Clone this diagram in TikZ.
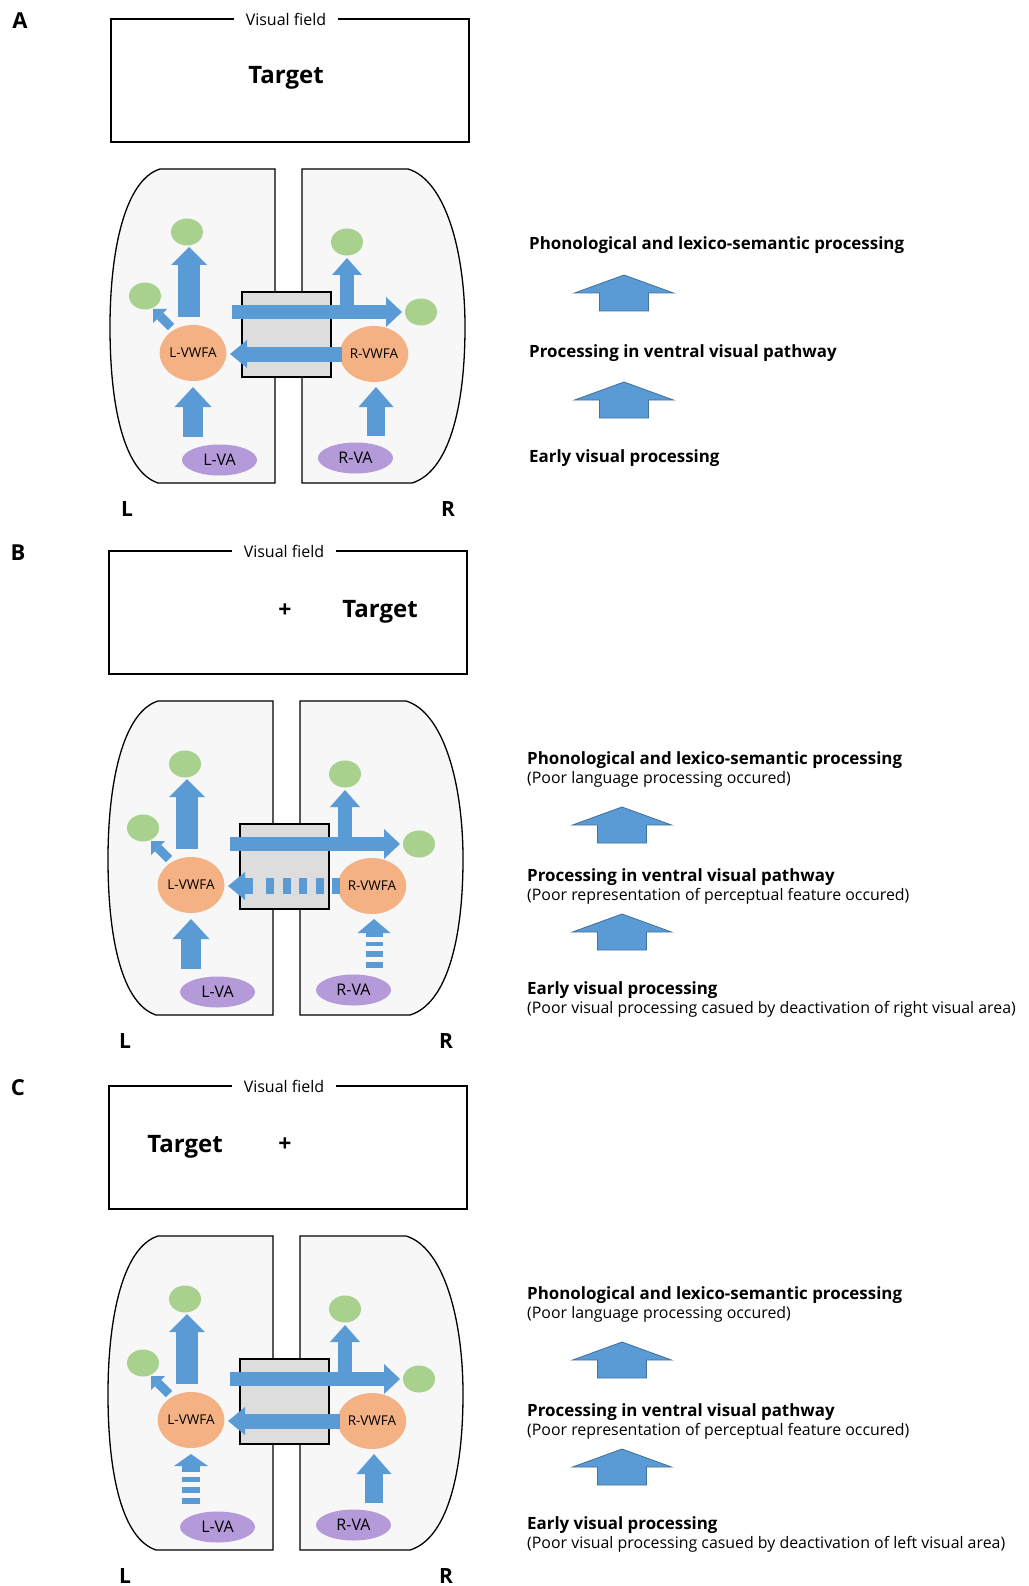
\documentclass[tikz,border=0pt]{standalone}
\usepackage{fontspec}
\setmainfont{Open Sans}
\usetikzlibrary{arrows.meta,calc,shapes.geometric}
\definecolor{arrblue}{HTML}{5B9BD5}
\definecolor{arredge}{HTML}{41719C}
\definecolor{vwfacol}{HTML}{F4B183}
\definecolor{greencol}{HTML}{A9D18E}
\definecolor{vacol}{HTML}{B49AD8}
\definecolor{hemicol}{HTML}{F7F7F7}
\definecolor{cccol}{HTML}{DDDDDD}
\tikzset{
 hemisphere/.style={draw=black, line width=1.3pt, fill=hemicol},
 ccbox/.style={draw=black, line width=1.2pt, fill=cccol},
 fieldbox/.style={draw=black, line width=1.4pt},
 fieldlabel/.style={fill=white, inner xsep=12pt, inner ysep=1pt, font=\fontsize{16}{16}\selectfont},
 targetstyle/.style={anchor=base, inner sep=0pt, font=\bfseries\fontsize{24}{24}\selectfont},
 plusstyle/.style={inner sep=0pt, font=\bfseries\fontsize{23}{23}\selectfont},
 letterstyle/.style={inner sep=0pt, font=\bfseries\fontsize{22}{22}\selectfont},
 sidelabel/.style={inner sep=0pt, font=\bfseries\fontsize{21}{21}\selectfont},
 vwfanode/.style={ellipse, fill=vwfacol, minimum width=61pt, minimum height=56pt, inner sep=0pt, font=\fontsize{13.5}{13.5}\selectfont},
 vanode/.style={ellipse, fill=vacol, minimum width=75pt, minimum height=31pt, inner sep=0pt, font=\fontsize{16}{16}\selectfont},
 greennode/.style={ellipse, fill=greencol, minimum width=32pt, minimum height=27pt, inner sep=0pt},
 barrow/.style n args={3}{line width=#1pt, draw=arrblue, -{Triangle[width=#2pt,length=#3pt,line width=0pt]}},
 dashshaft/.style n args={3}{line width=#1pt, draw=arrblue, dash pattern=on #2pt off #3pt},
 headtext/.style={anchor=west, inner sep=0pt, font=\bfseries\fontsize{16.9}{16.9}\selectfont},
 subtext/.style={anchor=west, inner sep=0pt, font=\fontsize{15.9}{15.9}\selectfont},
 legarrow/.style={fill=arrblue, draw=arredge, line width=0.8pt},
}
\newcommand\legendarrow[2]{%
 \draw[legarrow] (#1-24.5,#2+36) -- (#1-24.5,#2+18) -- (#1-49.5,#2+18) -- (#1,#2) -- (#1+49.5,#2+18) -- (#1+24.5,#2+18) -- (#1+24.5,#2+36) -- cycle;}
\newcommand\drawpanel[4]{%
 \node[letterstyle] (#1let) at (20,21) {#3};
 \draw[fieldbox] (111,19) rectangle (469,142);
 \node[fieldlabel] (#1vf) at (286,19) {Visual field};
 \ifcase#2
   \node[targetstyle] (#1tgt) at (286,84) {Target};
 \or
   \node[plusstyle] (#1plus) at (287,79) {+};
   \node[targetstyle] (#1tgt) at (382,85) {Target};
 \or
   \node[targetstyle] (#1tgt) at (187,85) {Target};
   \node[plusstyle] (#1plus) at (287,78) {+};
 \fi
 % hemispheres
 \draw[hemisphere] (275,169) -- (160,169) .. controls (125,180) and (110,250) .. (110,327) .. controls (110,410) and (125,472) .. (158,483) -- (275,483) -- cycle;
 \draw[hemisphere] (302,169) -- (408,169) .. controls (445,180) and (465,250) .. (465,327) .. controls (465,410) and (448,472) .. (412,483) -- (302,483) -- cycle;
 \draw[ccbox] (242,292) rectangle (331,377);
 % nodes
 \node[vwfanode] (#1lvwfa) at (193,353) {L-VWFA};
 \node[vwfanode] (#1rvwfa) at (374,354) {R-VWFA};
 \node[vanode] (#1lva) at (219.5,460) {L-VA};
 \node[vanode] (#1rva) at (355.5,458) {R-VA};
 \node[greennode] (#1g1) at (187,232) {};
 \node[greennode] (#1g2) at (145,296) {};
 \node[greennode] (#1g3) at (347,242) {};
 \node[greennode] (#1g4) at (421,312) {};
 \node[sidelabel] (#1L) at (127,509) {L};
 \node[sidelabel] (#1R) at (448,509) {R};
 % arrow end points
 \coordinate (#1a1s) at (189,317); \coordinate (#1a1e) at (189,247);
 \coordinate (#1a2s) at (171,327); \coordinate (#1a2e) at (153,309);
 \coordinate (#1a3s) at (232,312); \coordinate (#1a3e) at (402,312);
 \coordinate (#1a4s) at (347,312); \coordinate (#1a4e) at (347,258);
 \coordinate (#1a5s) at (342,354); \coordinate (#1a5e) at (230,354);
 \coordinate (#1a6s) at (193,437); \coordinate (#1a6e) at (193,387);
 \coordinate (#1a7s) at (376,436); \coordinate (#1a7e) at (376,387);
 \draw[barrow={22}{36}{18}] (#1a1s) -- (#1a1e);
 \draw[barrow={9}{20}{10}] (#1a2s) -- (#1a2e);
 \draw[barrow={14}{30}{16}] (#1a3s) -- (#1a3e);
 \draw[barrow={14}{30}{17}] (#1a4s) -- (#1a4e);
 \ifnum#2=1
   \coordinate (#1a5m) at (255,354); \coordinate (#1a5d) at (265,354);
   \draw[dashshaft={16}{8}{8.5}] (#1a5s) -- (#1a5d);
   \draw[barrow={16}{28}{17}] (#1a5m) -- (#1a5e);
 \else
   \draw[barrow={15}{28}{17}] (#1a5s) -- (#1a5e);
 \fi
 \ifnum#2=2
   \coordinate (#1a6m) at (193,405); \coordinate (#1a6d) at (193,410);
   \draw[dashshaft={18}{6}{5}] (#1a6s) -- (#1a6d);
   \draw[barrow={18}{34}{12}] (#1a6m) -- (#1a6e);
 \else
   \draw[barrow={20}{37}{20}] (#1a6s) -- (#1a6e);
 \fi
 \ifnum#2=1
   \coordinate (#1a7m) at (376,405); \coordinate (#1a7d) at (376,410);
   \draw[dashshaft={17}{6}{5}] (#1a7s) -- (#1a7d);
   \draw[barrow={17}{33}{14}] (#1a7m) -- (#1a7e);
 \else
   \draw[barrow={18}{35}{20}] (#1a7s) -- (#1a7e);
 \fi
 % legend
 \ifnum#2=0
   \node[headtext] (#1h1) at (529,245) {Phonological and lexico-semantic processing};
   \node[headtext] (#1h2) at (529,353) {Processing in ventral visual pathway};
   \node[headtext] (#1h3) at (529,458) {Early visual processing};
 \else
   \node[headtext] (#1h1) at (529,228) {Phonological and lexico-semantic processing};
   \node[subtext] (#1s1) at (529,247) {(Poor language processing occured)};
   \node[headtext] (#1h2) at (529,345) {Processing in ventral visual pathway};
   \node[subtext] (#1s2) at (529,364) {(Poor representation of perceptual feature occured)};
   \node[headtext] (#1h3) at (529,458) {Early visual processing};
   \node[subtext] (#1s3) at (529,477) {(Poor visual processing casued by deactivation of #4 visual area)};
 \fi
 \legendarrow{624}{275}
 \legendarrow{624}{382}
}
\begin{document}
\begin{tikzpicture}[x=1pt,y=-1pt]
\useasboundingbox[fill=white] (0,0) rectangle (1028,1586);
\begin{scope}
 \drawpanel{a}{0}{A}{}
\end{scope}
\begin{scope}[shift={(-2,532)}]
 \drawpanel{b}{1}{B}{right}
\end{scope}
\begin{scope}[shift={(-2,1067)}]
 \drawpanel{c}{2}{C}{left}
\end{scope}
\end{tikzpicture}
\end{document}
